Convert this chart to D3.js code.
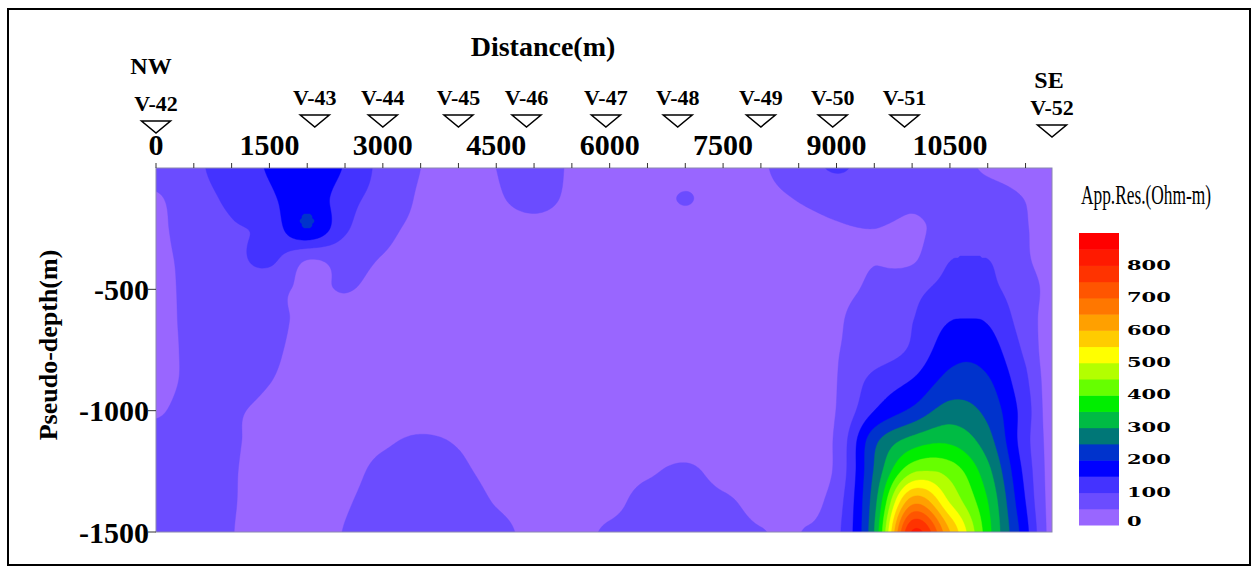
<!DOCTYPE html>
<html><head><meta charset="utf-8">
<script src="https://cdn.jsdelivr.net/npm/d3@7"></script>
<style>
body{margin:0;background:#fff}
svg{display:block}
text{font-family:"Liberation Serif","Times New Roman",serif;fill:#000}
</style>
</head><body>
<svg id="chart" width="1254" height="569"></svg>
<script>
// ---------------- DATA ----------------
// grid columns (distance, m) and rows (pseudo-depth, m)
const distances = [0,500,1000,1500,2000,2500,3000,3500,4000,4500,5000,5500,6000,6500,7000,7500,8000,8500,9000,9500,10000,10500,11000,11500,11850];
const depths = [0,125,250,375,500,625,750,875,1000,1125,1250,1375,1500];
// apparent resistivity (Ohm-m) read along each depth row
const resAt0    = [70,90,125,155,200,145,85,50,40,50,70,45,35,30,35,38,45,75,105,80,75,65,45,35,30];
const resAt125  = [45,80,110,140,185,120,80,45,35,45,65,42,35,35,52,35,40,52,65,75,58,70,65,49,35];
const resAt250  = [40,75,95,115,200,108,62,42,35,33,35,33,32,32,35,35,38,42,47,50,44,62,65,52,35];
const resAt375  = [40,64,85,110,52,65,48,40,35,30,30,30,30,30,30,30,32,38,45,49,44,98,100,56,35];
const resAt500  = [38,62,80,65,42,52,38,35,30,28,28,28,28,28,28,28,30,35,44,56,85,115,112,70,38];
const resAt625  = [38,60,72,60,42,35,30,30,30,28,28,28,28,28,28,28,30,32,46,68,98,148,145,75,30];
const resAt750  = [38,58,68,56,40,32,30,30,30,28,28,28,28,28,28,28,30,32,48,72,108,180,175,90,20];
const resAt875  = [38,58,64,51,38,30,30,30,30,28,28,28,28,28,28,28,30,32,49,115,152,215,205,110,20];
const resAt1000 = [46,62,54,43,32,30,30,30,30,28,28,28,28,28,28,28,30,32,51,150,210,270,235,125,20];
const resAt1125 = [62,64,53,42,33,35,45,55,47,33,30,30,30,30,30,30,30,38,58,235,320,340,270,120,30];
const resAt1250 = [68,66,52,42,35,40,58,64,56,40,32,32,35,45,57,38,35,38,60,255,440,430,315,135,30];
const resAt1375 = [72,68,52,40,36,47,62,70,65,48,38,35,40,62,65,55,42,42,75,280,630,495,350,150,30];
const resAt1500 = [75,70,51,40,38,51,62,68,65,58,42,38,55,62,60,58,51,49,85,300,805,600,370,170,30];
const resistivityRows = [resAt0,resAt125,resAt250,resAt375,resAt500,resAt625,resAt750,resAt875,resAt1000,resAt1125,resAt1250,resAt1375,resAt1500];

const stationNames = ["V-42","V-43","V-44","V-45","V-46","V-47","V-48","V-49","V-50","V-51","V-52"];
const stationDistances = [0,2100,3000,4000,4900,5950,6900,8000,8950,9900,11850];
const xTickLabels = [0,1500,3000,4500,6000,7500,9000,10500];
const xMinorTicks = d3.range(0, 12000, 500);
const yTickLabels = [-500,-1000,-1500];
const levels = d3.range(0, 901, 50);           // contour levels 0..900
const bandColors = ["#9966ff","#6b4cff","#4433ff","#0000ff","#0033cc","#007777","#00bb44","#00ee00",
  "#66ff00","#b3ff00","#ffff00","#ffcc00","#ffa000","#ff7700","#ff5500","#ff3300","#ff1a00","#ff0000"];
const legendLabels = [0,100,200,300,400,500,600,700,800];

// ---------------- LAYOUT ----------------
const svg = d3.select("#chart");
const X0 = 156, X1 = 1052, Y0 = 168, Y1 = 532;
const x = d3.scaleLinear().domain([0, 11850]).range([X0, X1]);
const y = d3.scaleLinear().domain([0, -1500]).range([Y0, Y1]);

// outer frame
svg.append("rect").attr("x",8).attr("y",9).attr("width",1242).attr("height",556)
  .attr("fill","none").attr("stroke","#000").attr("stroke-width",2);

// ---------- interpolate the read grid onto a fine grid ----------
const nC = distances.length, nR = depths.length;
function fracIndex(arr, v){
  for (let k=0;k<arr.length-1;k++){ if (v<=arr[k+1]) return k + (v-arr[k])/(arr[k+1]-arr[k]); }
  return arr.length-1;
}
function cr(p0,p1,p2,p3,t){
  return 0.5*(2*p1 + (-p0+p2)*t + (2*p0-5*p1+4*p2-p3)*t*t + (-p0+3*p1-3*p2+p3)*t*t*t);
}
const g = (r,c) => resistivityRows[Math.max(0,Math.min(nR-1,r))][Math.max(0,Math.min(nC-1,c))];
function sample(u, v){
  const i = Math.min(Math.floor(u), nC-2), j = Math.min(Math.floor(v), nR-2);
  const tx = u-i, ty = v-j;
  const rowsV = [];
  for (let k=-1;k<=2;k++) rowsV.push(cr(g(j+k,i-1),g(j+k,i),g(j+k,i+1),g(j+k,i+2),tx));
  let val = cr(rowsV[0],rowsV[1],rowsV[2],rowsV[3],ty);
  const a=g(j,i), b=g(j,i+1), c=g(j+1,i), d=g(j+1,i+1);
  return Math.max(Math.min(a,b,c,d), Math.min(Math.max(a,b,c,d), val));
}
const nx = 449, ny = 183;
const sx = (X1-X0)/(nx-1), sy = (Y1-Y0)/(ny-1);
const values = new Float64Array(nx*ny);
for (let j=0;j<ny;j++){
  const dep = -y.invert(Y0 + j*sy);
  const v = fracIndex(depths, dep);
  for (let i=0;i<nx;i++){
    const dist = x.invert(X0 + i*sx);
    values[j*nx+i] = sample(fracIndex(distances, dist), v);
  }
}
const contours = d3.contours().size([nx, ny]).thresholds(levels.slice(0, -1))(values);
const proj = d3.geoTransform({point(px, py){ this.stream.point(X0 + (px-0.5)*sx, Y0 + (py-0.5)*sy); }});
const path = d3.geoPath(proj);

svg.append("clipPath").attr("id","plotClip").append("rect")
  .attr("x",X0).attr("y",Y0).attr("width",X1-X0).attr("height",Y1-Y0);
svg.append("g").attr("clip-path","url(#plotClip)")
  .selectAll("path").data(contours).join("path")
  .attr("d", path)
  .attr("fill", (d,k) => bandColors[k])
  .attr("stroke", (d,k) => bandColors[k]).attr("stroke-width",0.4);

svg.append("rect").attr("x",X0).attr("y",Y0).attr("width",X1-X0).attr("height",Y1-Y0)
  .attr("fill","none").attr("stroke","#8a86b0").attr("stroke-width",1);

// ---------- axes ----------
svg.append("g").selectAll("line").data(xMinorTicks).join("line")
  .attr("x1",d=>x(d)).attr("x2",d=>x(d)).attr("y1",Y0).attr("y2",Y0-5)
  .attr("stroke","#333").attr("stroke-width",1);
svg.append("g").selectAll("text").data(xTickLabels).join("text")
  .attr("x",d=>x(d)).attr("y",155).attr("text-anchor","middle")
  .style("font-size","30px").style("font-weight","bold").text(d=>d);

svg.append("g").selectAll("line").data(yTickLabels).join("line")
  .attr("x1",X0-8).attr("x2",X0).attr("y1",d=>y(d)).attr("y2",d=>y(d))
  .attr("stroke","#333").attr("stroke-width",1);
svg.append("g").selectAll("text").data(yTickLabels).join("text")
  .attr("x",X0-7).attr("y",d=>y(d)).attr("dy","0.35em").attr("text-anchor","end")
  .style("font-size","30px").style("font-weight","bold").text(d=>d);

svg.append("text").attr("transform","translate(57,345) rotate(-90)").attr("text-anchor","middle")
  .style("font-size","26px").style("font-weight","bold").text("Pseudo-depth(m)");
svg.append("text").attr("x",543).attr("y",56).attr("text-anchor","middle")
  .style("font-size","28px").style("font-weight","bold").text("Distance(m)");
svg.append("text").attr("x",151).attr("y",74).attr("text-anchor","middle")
  .style("font-size","24px").style("font-weight","bold").text("NW");
svg.append("text").attr("x",1049).attr("y",88).attr("text-anchor","middle")
  .style("font-size","24px").style("font-weight","bold").text("SE");

// ---------- stations ----------
const st = svg.append("g").selectAll("g").data(stationNames).join("g")
  .attr("transform",(d,k)=>{
    const off = (k===0) ? 6 : (k===stationNames.length-1 ? 10 : 0);
    return `translate(${x(stationDistances[k])},${off})`;
  });
st.append("text").attr("y",105).attr("text-anchor","middle")
  .style("font-size","22px").style("font-weight","bold").text(d=>d);
st.append("path").attr("d","M-14.5,115 L14.5,115 L0,127 Z")
  .attr("fill","#fff").attr("stroke","#000").attr("stroke-width",1.5);

// ---------- legend ----------
const LX = 1079, LW = 40, LT = 233, LB = 525;
const ly = d3.scaleLinear().domain([0, 900]).range([LB, LT]);
const lg = svg.append("g");
lg.selectAll("rect").data(bandColors).join("rect")
  .attr("x",LX).attr("width",LW)
  .attr("y",(d,k)=>ly(levels[k+1])).attr("height",(d,k)=>ly(levels[k])-ly(levels[k+1])+0.5)
  .attr("fill",d=>d);
lg.selectAll("text").data(legendLabels).join("text")
  .attr("transform",d=>`translate(1127,${d===0?ly(d)-3:ly(d)}) scale(1.75,1)`)
  .attr("dy","0.35em")
  .style("font-family","'DejaVu Serif',serif").style("font-size","12px").style("font-weight","bold")
  .text(d=>d);
svg.append("text").attr("transform","translate(1146,204) scale(0.62,1)").attr("text-anchor","middle")
  .style("font-size","28px")
  .text("App.Res.(Ohm-m)");
</script>
</body></html>
